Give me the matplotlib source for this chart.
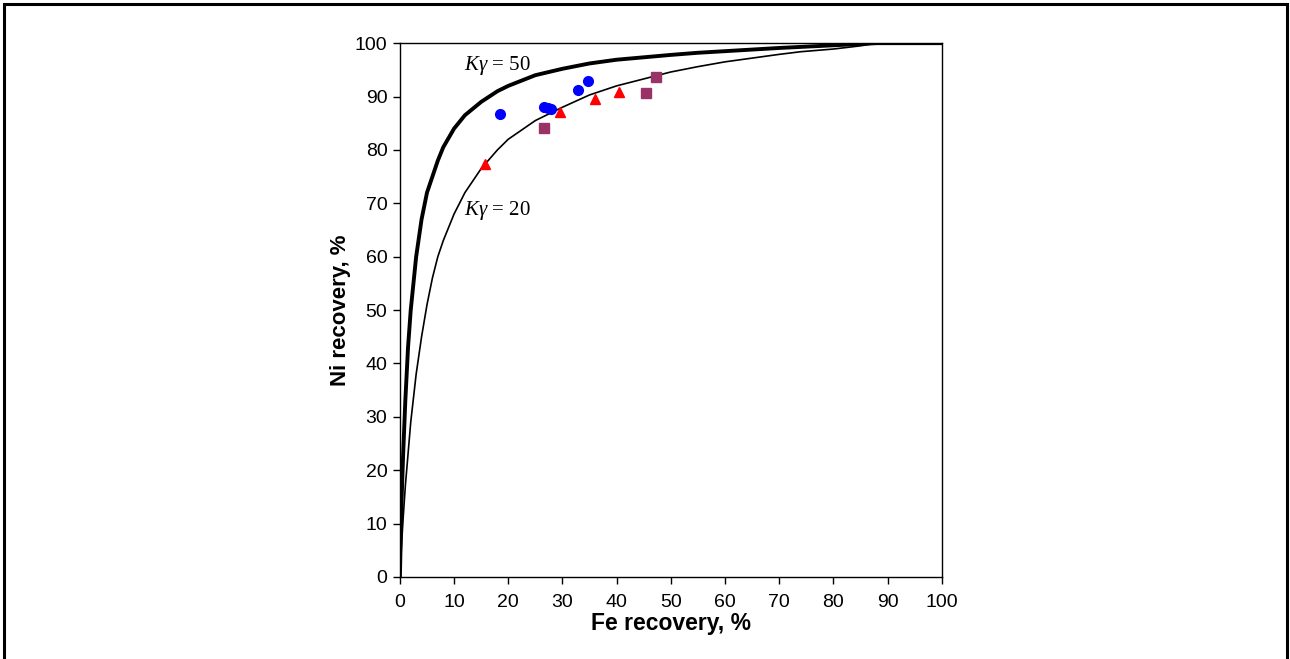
import matplotlib.pyplot as plt
from matplotlib.patches import Rectangle

plt.rcParams['font.family'] = ['Liberation Sans', 'DejaVu Sans']
plt.rcParams['mathtext.fontset'] = 'custom'
plt.rcParams['mathtext.it'] = 'Liberation Serif:italic'
plt.rcParams['mathtext.rm'] = 'Liberation Serif'

# Selectivity curve K=50
fe_k50 = [0, 0.3, 0.6, 1, 1.5, 2, 3, 4, 5, 6, 7, 8, 10, 12, 15, 18, 20, 25, 30, 35, 40,
          50, 55, 60, 70, 74, 80, 88, 100]
ni_k50 = [0, 14, 23, 33, 43, 50, 60, 67, 72, 75, 78, 80.5, 84, 86.5, 89, 91, 92, 94, 95.2,
          96.2, 96.9, 97.8, 98.2, 98.5, 99.1, 99.3, 99.6, 100, 100]

# Selectivity curve K=20
fe_k20 = [0, 0.3, 0.6, 1, 1.5, 2, 3, 4, 5, 6, 7, 8, 10, 12, 15, 18, 20, 25, 30, 35, 40,
          45, 50, 55, 60, 65, 70, 74, 80, 85, 88, 100]
ni_k20 = [0, 6, 11, 17, 23, 29, 38, 45, 51, 56, 60, 63, 68, 72, 76.5, 80, 82, 85.5, 88,
          90.3, 92, 93.3, 94.6, 95.6, 96.5, 97.2, 97.9, 98.4, 98.9, 99.5, 100, 100]

# Experimental points
fe_circ = [18.5, 26.6, 27.3, 27.9, 32.8, 34.7]
ni_circ = [86.7, 88.0, 87.8, 87.6, 91.2, 92.9]
fe_tri = [15.7, 29.5, 36.0, 40.4]
ni_tri = [77.3, 87.1, 89.5, 90.8]
fe_sq = [26.6, 45.4, 47.2]
ni_sq = [84.1, 90.6, 93.6]

fig = plt.figure(figsize=(12.9, 6.59), dpi=100)
ax = fig.add_axes([0.310, 0.1245, 0.420, 0.810])

ax.plot(fe_k50, ni_k50, color='black', lw=2.8)
ax.plot(fe_k20, ni_k20, color='black', lw=1.2)
ax.plot(fe_circ, ni_circ, 'o', color='#0000ff', ms=7, ls='none')
ax.plot(fe_tri, ni_tri, '^', color='#ff0000', ms=7, ls='none')
ax.plot(fe_sq, ni_sq, 's', color='#993366', ms=7, ls='none')

ax.text(11.8, 95.8, r'$K\gamma$ = 50', fontsize=15, family='Liberation Serif', va='center')
ax.text(11.8, 68.7, r'$K\gamma$ = 20', fontsize=15, family='Liberation Serif', va='center')

ax.set_xlim(0, 100)
ax.set_ylim(0, 100)
ax.set_xticks(range(0, 101, 10))
ax.set_yticks(range(0, 101, 10))
ax.tick_params(labelsize=14, direction='out', length=5, width=1)
ax.tick_params(axis='x', pad=7)
ax.tick_params(axis='y', pad=4)
for s in ax.spines.values():
    s.set_linewidth(1)
ax.set_xlabel('Fe recovery, %', fontsize=16.5, fontweight='bold', labelpad=1)
ax.set_ylabel('Ni recovery, %', fontsize=16, fontweight='bold', labelpad=3)

# outer frame
fig.patches.append(Rectangle((0.003, -0.02), 0.995, 1.014, transform=fig.transFigure,
                             fill=False, lw=2.2, color='black'))

plt.savefig('out.png', dpi=100)
